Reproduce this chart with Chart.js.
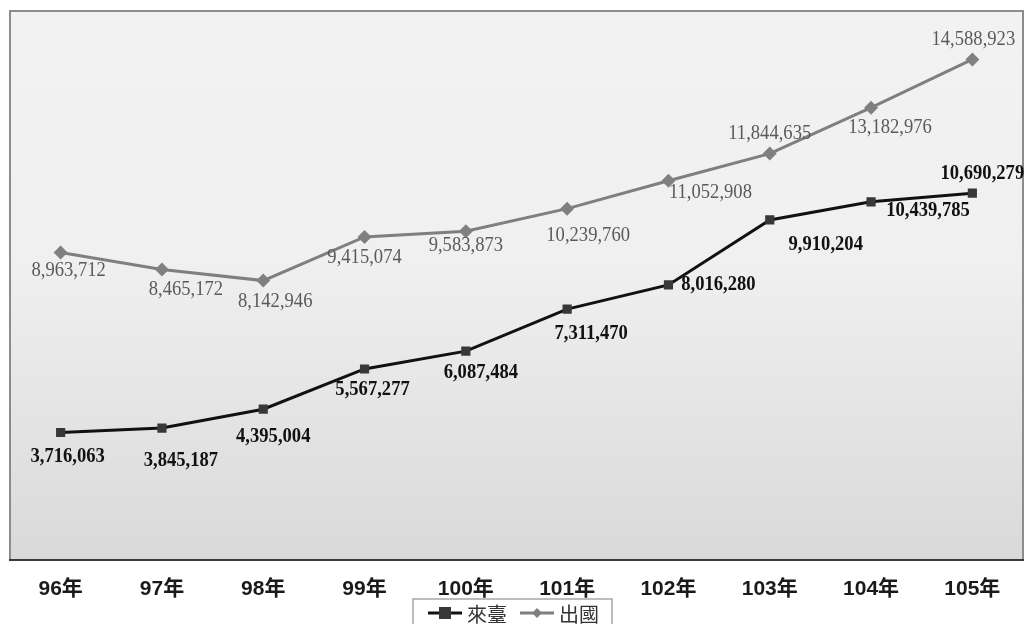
<!DOCTYPE html>
<html>
<head>
<meta charset="utf-8">
<script src="https://cdn.jsdelivr.net/npm/chart.js@4.4.1/dist/chart.umd.min.js"></script>
<style>
  html, body { margin: 0; padding: 0; background: #fff; overflow: hidden; }
  #chart { display: block; width: 1030px; height: 624px; }
</style>
</head>
<body>
<canvas id="chart" width="1030" height="624"></canvas>
<script>
// ── Data ────────────────────────────────────────────────────────────────
const years = ['96年', '97年', '98年', '99年', '100年', '101年', '102年', '103年', '104年', '105年'];
const inbound = [3716063, 3845187, 4395004, 5567277, 6087484, 7311470, 8016280, 9910204, 10439785, 10690279];
const outbound = [8963712, 8465172, 8142946, 9415074, 9583873, 10239760, 11052908, 11844635, 13182976, 14588923];
const seriesNames = ['來臺', '出國'];

// ── Label nudges (px from each point, one list per series) ─────────────
const LABEL_NUDGE = [
  [[7, 24], [19, 33], [10, 28], [8, 21], [15, 22], [24, 25], [50, 0], [56, 25], [57, 9], [10, -19]],
  [[8, 18], [24, 20], [12, 21], [0, 21], [0, 15], [21, 27], [42, 12], [0, -20], [19, 20], [1, -20]],
];

const fmt = v => v.toLocaleString('en-US');

// ── Plugins ─────────────────────────────────────────────────────────────
const plotFrame = {
  id: 'plotFrame',
  beforeDatasetsDraw(chart) {
    const { ctx, chartArea: a } = chart;
    ctx.save();
    const g = ctx.createLinearGradient(0, a.top, 0, a.bottom);
    g.addColorStop(0, '#f2f2f2');
    g.addColorStop(0.45, '#f0f0f0');
    g.addColorStop(1, '#d9d9d9');
    ctx.fillStyle = g;
    ctx.fillRect(a.left, a.top, a.right - a.left, a.bottom - a.top);
    ctx.strokeStyle = '#8c8c8c';
    ctx.lineWidth = 2;
    ctx.strokeRect(a.left, a.top, a.right - a.left, a.bottom - a.top);
    ctx.strokeStyle = '#3a3a3a';
    ctx.beginPath();
    ctx.moveTo(a.left - 1, a.bottom);
    ctx.lineTo(a.right + 1, a.bottom);
    ctx.stroke();
    ctx.restore();
  },
};

const valueLabels = {
  id: 'valueLabels',
  afterDatasetsDraw(chart) {
    const { ctx } = chart;
    const styles = [
      { font: 'bold 20px "Liberation Serif"', color: '#111' },
      { font: '20px "Liberation Serif"', color: '#5a5a5a' },
    ];
    ctx.save();
    ctx.textAlign = 'center';
    ctx.textBaseline = 'middle';
    chart.data.datasets.forEach((ds, di) => {
      const meta = chart.getDatasetMeta(di);
      ctx.font = styles[di].font;
      ctx.fillStyle = styles[di].color;
      meta.data.forEach((pt, i) => {
        const [dx, dy] = LABEL_NUDGE[di][i];
        ctx.save();
        ctx.translate(pt.x + dx, pt.y + dy);
        ctx.scale(0.93, 1);
        ctx.fillText(fmt(ds.data[i]), 0, 0);
        ctx.restore();
      });
    });
    ctx.restore();
  },
};

const boxLegend = {
  id: 'boxLegend',
  afterDraw(chart) {
    const { ctx } = chart;
    ctx.save();
    ctx.fillStyle = '#fff';
    ctx.fillRect(413, 599, 199, 30);
    ctx.strokeStyle = '#a6a6a6';
    ctx.lineWidth = 1.5;
    ctx.strokeRect(413, 599, 199, 30);

    const items = [
      { x: 428, ds: chart.data.datasets[0] },
      { x: 520, ds: chart.data.datasets[1] },
    ];
    const y = 613;
    ctx.font = '20px "Noto Sans CJK TC"';
    ctx.textBaseline = 'middle';
    items.forEach(({ x, ds }) => {
      ctx.strokeStyle = ds.borderColor;
      ctx.lineWidth = 3;
      ctx.beginPath();
      ctx.moveTo(x, y);
      ctx.lineTo(x + 34, y);
      ctx.stroke();
      ctx.fillStyle = ds.pointBackgroundColor;
      if (ds.pointStyle === 'rect') {
        ctx.fillRect(x + 11, y - 6, 12, 12);
      } else {
        ctx.beginPath();
        ctx.moveTo(x + 17, y - 5);
        ctx.lineTo(x + 22, y);
        ctx.lineTo(x + 17, y + 5);
        ctx.lineTo(x + 12, y);
        ctx.closePath();
        ctx.fill();
      }
      ctx.fillStyle = '#333';
      ctx.fillText(ds.label, x + 39, y + 1);
    });
    ctx.restore();
  },
};

// ── Chart ───────────────────────────────────────────────────────────────
new Chart(document.getElementById('chart'), {
  type: 'line',
  data: {
    labels: years,
    datasets: [
      {
        label: seriesNames[0],
        data: inbound,
        borderColor: '#111',
        borderWidth: 3,
        pointStyle: 'rect',
        pointRadius: 6.5,
        pointBackgroundColor: '#383838',
        pointBorderColor: '#383838',
        pointBorderWidth: 0,
        tension: 0,
      },
      {
        label: seriesNames[1],
        data: outbound,
        borderColor: '#7f7f7f',
        borderWidth: 3,
        pointStyle: 'rectRot',
        pointRadius: 7,
        pointBackgroundColor: '#808080',
        pointBorderColor: '#808080',
        pointBorderWidth: 0,
        tension: 0,
      },
    ],
  },
  options: {
    responsive: false,
    maintainAspectRatio: false,
    animation: false,
    devicePixelRatio: 1,
    layout: { padding: { left: 10, right: 2, top: 11, bottom: 0 } },
    plugins: {
      legend: { display: false },
      title: { display: false },
      tooltip: { enabled: false },
    },
    scales: {
      x: {
        offset: true,
        grid: { display: false, drawTicks: false },
        border: { display: false },
        ticks: {
          color: '#1a1a1a',
          padding: 17,
          maxRotation: 0,
          autoSkip: false,
          font: { family: '"Liberation Sans", "Noto Sans CJK TC"', size: 21, weight: 'bold' },
        },
        afterFit(scale) {
          scale.height = 64;
          scale.paddingLeft = 0;
          scale.paddingRight = 0;
        },
      },
      y: {
        display: false,
        min: 0,
        max: 16000000,
      },
    },
  },
  plugins: [plotFrame, valueLabels, boxLegend],
});
</script>
</body>
</html>
